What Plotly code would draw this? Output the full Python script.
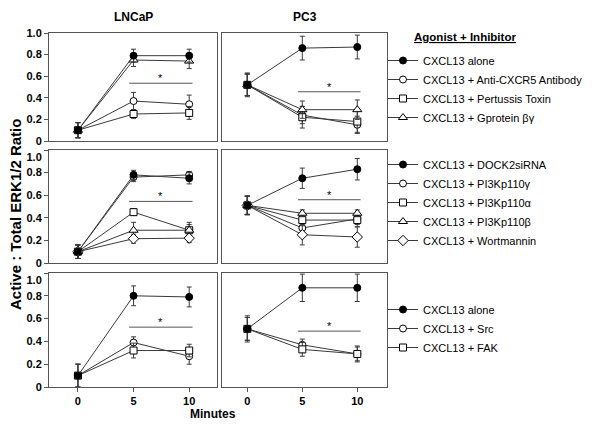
import plotly.graph_objects as go

# page body adds an 8px margin; figure is sized/placed to compensate
OFF = 8
W, H = 600 - OFF, 429 - OFF
FONT = "Liberation Sans, Arial, sans-serif"

minutes = [0, 5, 10]
y_tickvals = [0, 0.2, 0.4, 0.6, 0.8, 1.0]
y_ticktext = ["0", "0.2", "0.4", "0.6", "0.8", "1.0"]
x_tickvals = [0, 5, 10]
x_ticktext = ["0", "5", "10"]
col_titles = ["LNCaP", "PC3"]

# ---- Row 1: receptor / G-protein ----
row1_names = ["CXCL13 alone", "CXCL13 + Anti-CXCR5 Antibody",
              "CXCL13 + Pertussis Toxin", "CXCL13 + Gprotein βγ"]
lncap1_alone = [0.10, 0.79, 0.79]
lncap1_alone_err = [0.07, 0.06, 0.06]
lncap1_cxcr5 = [0.10, 0.37, 0.34]
lncap1_cxcr5_err = [0.07, 0.08, 0.085]
lncap1_ptx = [0.10, 0.25, 0.26]
lncap1_ptx_err = [0.07, 0.04, 0.06]
lncap1_gbg = [0.10, 0.75, 0.74]
lncap1_gbg_err = [0.07, 0.06, 0.07]

pc31_alone = [0.52, 0.86, 0.87]
pc31_alone_err = [0.11, 0.11, 0.11]
pc31_cxcr5 = [0.52, 0.24, 0.15]
pc31_cxcr5_err = [0.10, 0.08, 0.08]
pc31_ptx = [0.52, 0.22, 0.18]
pc31_ptx_err = [0.10, 0.10, 0.10]
pc31_gbg = [0.52, 0.29, 0.29]
pc31_gbg_err = [0.10, 0.08, 0.09]

# ---- Row 2: DOCK2 / PI3K ----
row2_names = ["CXCL13 + DOCK2siRNA", "CXCL13 + PI3Kp110γ", "CXCL13 + PI3Kp110α",
              "CXCL13 + PI3Kp110β", "CXCL13 + Wortmannin"]
lncap2_dock2 = [0.10, 0.78, 0.75]
lncap2_dock2_err = [0.06, 0.04, 0.05]
lncap2_p110g = [0.10, 0.76, 0.78]
lncap2_p110g_err = [0.06, 0.04, 0.03]
lncap2_p110a = [0.10, 0.45, 0.29]
lncap2_p110a_err = [0.06, 0.03, 0.07]
lncap2_p110b = [0.10, 0.29, 0.29]
lncap2_p110b_err = [0.06, 0.07, 0.05]
lncap2_wort = [0.10, 0.215, 0.22]
lncap2_wort_err = [0.06, 0.04, 0.04]

pc32_dock2 = [0.51, 0.75, 0.83]
pc32_dock2_err = [0.085, 0.09, 0.095]
pc32_p110g = [0.51, 0.31, 0.39]
pc32_p110g_err = [0.08, 0.06, 0.05]
pc32_p110a = [0.51, 0.38, 0.38]
pc32_p110a_err = [0.08, 0.05, 0.06]
pc32_p110b = [0.51, 0.44, 0.44]
pc32_p110b_err = [0.08, 0.03, 0.03]
pc32_wort = [0.51, 0.25, 0.23]
pc32_wort_err = [0.08, 0.09, 0.09]

# ---- Row 3: Src / FAK ----
row3_names = ["CXCL13 alone", "CXCL13 + Src", "CXCL13 + FAK"]
lncap3_alone = [0.10, 0.80, 0.79]
lncap3_alone_err = [0.10, 0.087, 0.087]
lncap3_src = [0.10, 0.39, 0.27]
lncap3_src_err = [0.10, 0.05, 0.07]
lncap3_fak = [0.10, 0.32, 0.32]
lncap3_fak_err = [0.10, 0.065, 0.055]

pc33_alone = [0.51, 0.87, 0.87]
pc33_alone_err = [0.115, 0.12, 0.12]
pc33_src = [0.51, 0.37, 0.29]
pc33_src_err = [0.10, 0.05, 0.07]
pc33_fak = [0.51, 0.33, 0.29]
pc33_fak_err = [0.10, 0.06, 0.06]

# significance bars (y level) per row, LNCaP and PC3
sig_lncap = [0.535, 0.545, 0.525]
sig_pc3 = [0.456, 0.56, 0.49]
sig_x = [4.6, 10.3]
sig_star_x = 7.45

legend_title = "Agonist + Inhibitor"
y_title = "Active : Total ERK1/2 Ratio"
x_title = "Minutes"

# ---------------- layout geometry (screen pixels) ----------------
col_px = [(49, 217), (222, 387)]
row_px = [(33, 141), (150, 263), (273, 387)]
x_ranges = [[-2.6, 12.5], [-2.3, 12.7]]


def px_x(p):
    return (p - OFF) / W


def px_y(p):
    return 1 - (p - OFF) / H


LINE_C = "#3a3a3a"
ERR_C = "#3a3a3a"
BOX_C = "#555555"

styles = {
    "filled_circle": dict(symbol="circle", size=7, color="black"),
    "open_circle": dict(symbol="circle", size=7, color="white"),
    "square": dict(symbol="square", size=7, color="white"),
    "triangle": dict(symbol="triangle-up", size=8, color="white"),
    "diamond": dict(symbol="diamond", size=8, color="white"),
}

fig = go.Figure()


def add_series(axis_idx, y, err, name, style, legend, showlegend, rank):
    st = styles[style]
    fig.add_trace(go.Scatter(
        x=minutes, y=y, name=name, mode="lines+markers",
        xaxis="x" if axis_idx == 1 else f"x{axis_idx}",
        yaxis="y" if axis_idx == 1 else f"y{axis_idx}",
        line=dict(color=LINE_C, width=1),
        marker=dict(symbol=st["symbol"], size=st["size"], color=st["color"],
                    line=dict(color="black", width=1)),
        error_y=dict(type="data", array=err, visible=True, color=ERR_C,
                     thickness=1, width=2.5),
        legend=legend, showlegend=showlegend, legendrank=rank,
        cliponaxis=False,
    ))


# draw filled series last so it sits on top
row1 = [
    (lncap1_cxcr5, lncap1_cxcr5_err, pc31_cxcr5, pc31_cxcr5_err, 1, "open_circle"),
    (lncap1_ptx, lncap1_ptx_err, pc31_ptx, pc31_ptx_err, 2, "square"),
    (lncap1_gbg, lncap1_gbg_err, pc31_gbg, pc31_gbg_err, 3, "triangle"),
    (lncap1_alone, lncap1_alone_err, pc31_alone, pc31_alone_err, 0, "filled_circle"),
]
row2 = [
    (lncap2_p110g, lncap2_p110g_err, pc32_p110g, pc32_p110g_err, 1, "open_circle"),
    (lncap2_p110a, lncap2_p110a_err, pc32_p110a, pc32_p110a_err, 2, "square"),
    (lncap2_p110b, lncap2_p110b_err, pc32_p110b, pc32_p110b_err, 3, "triangle"),
    (lncap2_wort, lncap2_wort_err, pc32_wort, pc32_wort_err, 4, "diamond"),
    (lncap2_dock2, lncap2_dock2_err, pc32_dock2, pc32_dock2_err, 0, "filled_circle"),
]
row3 = [
    (lncap3_src, lncap3_src_err, pc33_src, pc33_src_err, 1, "open_circle"),
    (lncap3_fak, lncap3_fak_err, pc33_fak, pc33_fak_err, 2, "square"),
    (lncap3_alone, lncap3_alone_err, pc33_alone, pc33_alone_err, 0, "filled_circle"),
]

legend_keys = ["legend", "legend2", "legend3"]
for r, (rows, names) in enumerate([(row1, row1_names), (row2, row2_names), (row3, row3_names)]):
    for ly, le, py, pe, ni, st in rows:
        add_series(2 * r + 1, ly, le, names[ni], st, legend_keys[r], True, 100 + ni)
        add_series(2 * r + 2, py, pe, names[ni], st, legend_keys[r], False, 100 + ni)

layout = dict(
    width=W, height=H, margin=dict(l=0, r=0, t=0, b=0, pad=0, autoexpand=False),
    paper_bgcolor="white", plot_bgcolor="white",
    font=dict(family=FONT, color="black"),
)

for r in range(3):
    for c in range(2):
        i = 2 * r + c + 1
        xk = "xaxis" if i == 1 else f"xaxis{i}"
        yk = "yaxis" if i == 1 else f"yaxis{i}"
        is_bottom = r == 2
        is_left = c == 0
        # lower panels: nudge the top "1.0" label down, clear of the "0" above
        ytext = list(y_ticktext)
        if r > 0:
            ytext[-1] = "<br>" + ytext[-1]
        layout[xk] = dict(
            domain=[px_x(col_px[c][0]), px_x(col_px[c][1])],
            range=x_ranges[c], anchor="y" if i == 1 else f"y{i}",
            showgrid=False, zeroline=False, showline=True, mirror=True,
            linecolor=BOX_C, linewidth=1, automargin=False,
            tickvals=x_tickvals, ticktext=x_ticktext,
            showticklabels=is_bottom, ticks="outside" if is_bottom else "",
            ticklen=4, tickcolor=BOX_C,
            tickfont=dict(size=11, family=FONT, weight="bold", color="black"),
        )
        layout[yk] = dict(
            domain=[px_y(row_px[r][1]), px_y(row_px[r][0])],
            range=[0, 1.0], anchor="x" if i == 1 else f"x{i}",
            showgrid=False, zeroline=False, showline=True, mirror=True,
            linecolor=BOX_C, linewidth=1, automargin=False,
            tickvals=y_tickvals, ticktext=ytext,
            showticklabels=is_left, ticks="outside" if is_left else "",
            ticklen=4, tickcolor=BOX_C,
            tickfont=dict(size=11, family=FONT, weight="bold", color="black"),
        )

legend_tops = [46, 150, 295]
for k, top in zip(legend_keys, legend_tops):
    layout[k] = dict(
        x=px_x(383), y=px_y(top), xanchor="left", yanchor="top",
        bgcolor="rgba(0,0,0,0)", borderwidth=0, traceorder="normal",
        font=dict(size=11, family=FONT, color="black"),
        itemclick=False, itemdoubleclick=False,
    )

fig.update_layout(**layout)

# significance bars and stars
for r in range(3):
    for c, sig in enumerate([sig_lncap, sig_pc3]):
        i = 2 * r + c + 1
        xr = "x" if i == 1 else f"x{i}"
        yr = "y" if i == 1 else f"y{i}"
        fig.add_shape(type="line", xref=xr, yref=yr, x0=sig_x[0], x1=sig_x[1],
                      y0=sig[r], y1=sig[r], line=dict(color="#555555", width=1))
        fig.add_annotation(xref=xr, yref=yr, x=sig_star_x, y=sig[r], text="*",
                           showarrow=False, xanchor="center", yanchor="bottom",
                           yshift=-3,
                           font=dict(size=11, family=FONT, color="black"))


def paper_text(x, y, text, size, angle=0):
    fig.add_annotation(xref="paper", yref="paper", x=px_x(x), y=px_y(y),
                       text=text, showarrow=False, textangle=angle,
                       xanchor="center", yanchor="middle",
                       font=dict(size=size, family=FONT, color="black"))


for c, t in enumerate(col_titles):
    paper_text((col_px[c][0] + col_px[c][1]) / 2, 17, f"<b>{t}</b>", 12)

paper_text(15, 215, f"<b>{y_title}</b>", 15, angle=-90)
paper_text(213, 414, f"<b>{x_title}</b>", 12)
paper_text(465, 37, f"<b><u>{legend_title}</u></b>", 11.5)

fig.write_html("out.html")
